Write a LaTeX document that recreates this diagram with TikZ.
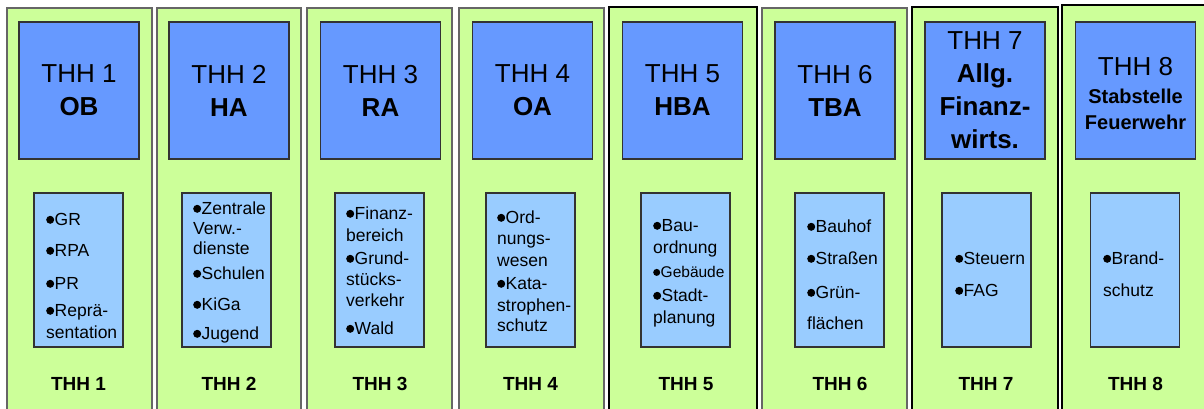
\documentclass[tikz,border=0pt]{standalone}
\usepackage{fontspec}
\setmainfont{Liberation Sans}
\definecolor{colgreen}{RGB}{204,255,153}
\definecolor{hdrblue}{RGB}{102,153,255}
\definecolor{itemblue}{RGB}{153,204,255}
\newcommand{\bul}{\tikz[baseline=0pt]{\fill (4pt,5.2pt) circle[radius=4pt];}\hspace{0.5pt}}
\newcommand{\bulsm}{\tikz[baseline=0pt]{\fill (3.5pt,4.6pt) circle[radius=3.5pt];}\hspace{0.5pt}}
\tikzset{
  col/.style={fill=colgreen, draw=black!60, line width=1.2pt},
  colthick/.style={fill=colgreen, draw=black, line width=2.4pt},
  hdr/.style={draw=black!80, line width=1.2pt, fill=hdrblue, inner sep=0pt,
    minimum width=120pt, minimum height=137pt, align=center,
    font=\fontsize{26}{33}\selectfont},
  itm/.style={draw=black!80, line width=1.2pt, fill=itemblue,
    minimum width=89pt, minimum height=154pt, inner sep=0pt},
  txt/.style={anchor=base west, inner sep=0pt, font=\fontsize{17.5}{21}\selectfont},
  foot/.style={anchor=base, inner sep=0pt, font=\bfseries\fontsize{19}{19}\selectfont}
}
\begin{document}
\begin{tikzpicture}[x=1pt,y=-1pt]
\useasboundingbox (0,0) rectangle (1204,409);
\clip (0,0) rectangle (1204,409);
\fill[white] (0,0) rectangle (1204,409);
% columns
\path[col] (7,8) rectangle (152,430);
\path[col] (157,8) rectangle (301,430);
\path[col] (307,8) rectangle (452,430);
\path[col] (459,8) rectangle (604,430);
\path[colthick] (609,7) rectangle (757,430);
\path[col] (762,8) rectangle (907,430);
\path[colthick] (912,7) rectangle (1058,430);
\path[colthick] (1062,5) rectangle (1215,430);
% headers
\node[hdr] (h1) at (79,90.5) {THH 1\\\textbf{OB}};
\node[hdr] (h2) at (229,90.5) {THH 2\\\textbf{HA}};
\node[hdr] (h3) at (380.5,90.5) {THH 3\\\textbf{RA}};
\node[hdr] (h4) at (532.5,90.5) {THH 4\\\textbf{OA}};
\node[hdr] (h5) at (682.5,90.5) {THH 5\\\textbf{HBA}};
\node[hdr] (h6) at (835,90.5) {THH 6\\\textbf{TBA}};
\node[hdr] (h7) at (985,90.5) {THH 7\\\textbf{Allg.}\\\textbf{Finanz-}\\\textbf{wirts.}};
\node[hdr] (h8) at (1135.5,90.5) {};
\node[align=center, inner sep=0pt, font=\bfseries\fontsize{20}{26}\selectfont] (h8t) at (1135.5,94)
  {{\mdseries\fontsize{26}{26}\selectfont THH 8}\\[2pt]Stabstelle\\Feuerwehr};
% item boxes
\node[itm] (i1) at (78.5,270) {};
\node[itm] (i2) at (226.5,270) {};
\node[itm] (i3) at (379.5,270) {};
\node[itm] (i4) at (530.5,270) {};
\node[itm] (i5) at (685.5,270) {};
\node[itm] (i6) at (839.5,270) {};
\node[itm] (i7) at (986.5,270) {};
\node[itm] (i8) at (1135,270) {};
% column 1
\node[txt] (t1a) at (46,225) {\bul GR};
\node[txt] (t1b) at (46,256) {\bul RPA};
\node[txt] (t1c) at (46,289) {\bul PR};
\node[txt] (t1d) at (46,316) {\bul Reprä-};
\node[txt] (t1e) at (46,338) {sentation};
% column 2
\node[txt] (t2a) at (193,214) {\bul Zentrale};
\node[txt] (t2b) at (193,234) {Verw.-};
\node[txt] (t2c) at (193,254) {dienste};
\node[txt] (t2d) at (193,279) {\bul Schulen};
\node[txt] (t2e) at (193,310) {\bul KiGa};
\node[txt] (t2f) at (193,339) {\bul Jugend};
% column 3
\node[txt] (t3a) at (346,219) {\bul Finanz-};
\node[txt] (t3b) at (346,241) {bereich};
\node[txt] (t3c) at (346,264) {\bul Grund-};
\node[txt] (t3d) at (346,285) {stücks-};
\node[txt] (t3e) at (346,306) {verkehr};
\node[txt] (t3f) at (346,334) {\bul Wald};
% column 4
\node[txt] (t4a) at (497,223) {\bul Ord-};
\node[txt] (t4b) at (497,244) {nungs-};
\node[txt] (t4c) at (497,266) {wesen};
\node[txt] (t4d) at (497,289) {\bul Kata-};
\node[txt] (t4e) at (497,311) {strophen-};
\node[txt] (t4f) at (497,331) {schutz};
% column 5
\node[txt] (t5a) at (653,231) {\bul Bau-};
\node[txt] (t5b) at (653,253) {ordnung};
\node[txt, font=\fontsize{15.5}{18}\selectfont] (t5c) at (653,277) {\bulsm Gebäude};
\node[txt] (t5d) at (653,301) {\bul Stadt-};
\node[txt] (t5e) at (653,323) {planung};
% column 6
\node[txt] (t6a) at (807,232) {\bul Bauhof};
\node[txt] (t6b) at (807,264) {\bul Straßen};
\node[txt] (t6c) at (807,298) {\bul Grün-};
\node[txt] (t6d) at (807,329) {flächen};
% column 7
\node[txt] (t7a) at (955,264) {\bul Steuern};
\node[txt] (t7b) at (955,296) {\bul FAG};
% column 8
\node[txt] (t8a) at (1103,264) {\bul Brand-};
\node[txt] (t8b) at (1103,296) {schutz};
% footers
\node[foot] (f1) at (78.5,390) {THH 1};
\node[foot] (f2) at (229,390) {THH 2};
\node[foot] (f3) at (380,390) {THH 3};
\node[foot] (f4) at (530.5,390) {THH 4};
\node[foot] (f5) at (686,390) {THH 5};
\node[foot] (f6) at (840,390) {THH 6};
\node[foot] (f7) at (986,390) {THH 7};
\node[foot] (f8) at (1135.5,390) {THH 8};
\end{tikzpicture}
\end{document}
